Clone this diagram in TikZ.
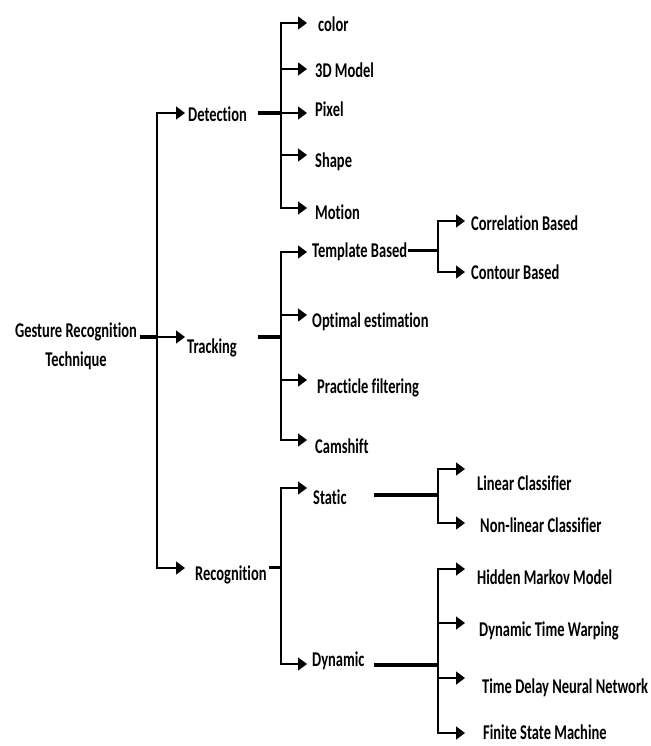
\documentclass[tikz,border=0pt]{standalone}
\usepackage{fontspec}
\setmainfont{Carlito}[FakeStretch=0.69,Ligatures=NoCommon]
\usepackage{tikz}
\usetikzlibrary{arrows.meta,positioning}

\begin{document}
\begin{tikzpicture}
[x=1pt,y=-1pt,
      lbl/.style={font=\bfseries\fontsize{21}{29}\selectfont,inner sep=0pt},
      arr/.style={line width=1.4pt,-{Triangle[length=9pt,width=13pt]}},
      stub/.style={line width=4pt},
      midstub/.style={line width=3pt}]
 \useasboundingbox (0,0) rectangle (650,746);
 % branch points
 \coordinate (rootV) at (157,337);
 \coordinate (detV) at (281,113);
 \coordinate (trkV) at (281,337);
 \coordinate (recV) at (281,567);
 \coordinate (tmpV) at (438,250);
 \coordinate (staV) at (438,495);
 \coordinate (dynV) at (438,665);
 % arrow tips
 \coordinate (detTip) at (185,113);
 \coordinate (trkTip) at (185,337);
 \coordinate (recTip) at (185,568);
 \coordinate (clrTip) at (307,23);
 \coordinate (mdlTip) at (307,69);
 \coordinate (pixTip) at (307,113);
 \coordinate (shpTip) at (307,155);
 \coordinate (motTip) at (307,208);
 \coordinate (tmpTip) at (307,252);
 \coordinate (optTip) at (307,315);
 \coordinate (prtTip) at (307,380);
 \coordinate (camTip) at (307,440);
 \coordinate (corTip) at (465,221);
 \coordinate (conTip) at (465,272);
 \coordinate (staTip) at (307,488);
 \coordinate (dynTip) at (307,664);
 \coordinate (linTip) at (465,469);
 \coordinate (nlcTip) at (465,523);
 \coordinate (hmmTip) at (465,569);
 \coordinate (dtwTip) at (465,623);
 \coordinate (tdnTip) at (465,678);
 \coordinate (fsmTip) at (465,733);
 % labels
 \node[lbl,align=center] (root) at (76,346) {Gesture Recognition\\Technique};
 \node[lbl,right=3pt of detTip,yshift=-1pt] (det) {Detection};
 \node[lbl,right=2pt of trkTip,yshift=-11pt] (trk) {Tracking};
 \node[lbl,right=10pt of recTip,yshift=-7pt] (rec) {Recognition};
 \node[lbl,right=11pt of clrTip,yshift=-1pt] (clr) {color};
 \node[lbl,right=8pt of mdlTip,yshift=-1pt] (mdl) {3D Model};
 \node[lbl,right=8pt of pixTip,yshift=4pt] (pix) {Pixel};
 \node[lbl,right=8pt of shpTip,yshift=-7pt] (shp) {Shape};
 \node[lbl,right=8pt of motTip,yshift=-4pt] (mot) {Motion};
 \node[lbl,right=5pt of tmpTip] (tmp) {Template Based};
 \node[lbl,right=5pt of optTip,yshift=-7pt] (opt) {Optimal estimation};
 \node[lbl,right=10pt of prtTip,yshift=-8pt] (prt) {Practicle filtering};
 \node[lbl,right=8pt of camTip,yshift=-6pt] (cam) {Camshift};
 \node[lbl,right=6pt of corTip,yshift=-2pt] (cor) {Correlation Based};
 \node[lbl,right=6pt of conTip] (con) {Contour Based};
 \node[lbl,right=6pt of staTip,yshift=-9pt] (sta) {Static};
 \node[lbl,right=5pt of dynTip,yshift=3pt] (dyn) {Dynamic};
 \node[lbl,right=12pt of linTip,yshift=-14pt] (lin) {Linear Classifier};
 \node[lbl,right=15pt of nlcTip,yshift=-2pt] (nlc) {Non-linear Classifier};
 \node[lbl,right=12pt of hmmTip,yshift=-8pt] (hmm) {Hidden Markov Model};
 \node[lbl,right=14pt of dtwTip,yshift=-8pt] (dtw) {Dynamic Time Warping};
 \node[lbl,right=17pt of tdnTip,yshift=-10pt] (tdn) {Time Delay Neural Network};
 \node[lbl,right=18pt of fsmTip,yshift=1pt] (fsm) {Finite State Machine};
 % stubs
 \draw[stub] (rootV) -- ([xshift=3pt]rootV -| root.east);
 \draw[stub] (detV) -- ++(-23,0);
 \draw[stub] (trkV) -- ++(-23,0);
 \draw[midstub] (recV) -- ([xshift=2pt]recV -| rec.east);
 \draw[midstub] (tmpV) -- ([xshift=1pt]tmpV -| tmp.east);
 \draw[stub] (staV) -- ++(-64,0);
 \draw[stub] (dynV) -- ++(-64,0);
 % connectors
 \draw[arr] (rootV) |- (detTip);
 \draw[arr] (rootV) -- (trkTip);
 \draw[arr] (rootV) |- (recTip);
 \foreach \t in {clrTip,mdlTip,pixTip,shpTip,motTip}
  \draw[arr] (detV) |- (\t);
 \foreach \t in {tmpTip,optTip,prtTip,camTip}
  \draw[arr] (trkV) |- (\t);
 \draw[arr] (recV) |- (staTip);
 \draw[arr] (recV) |- (dynTip);
 \draw[arr] (tmpV) |- (corTip);
 \draw[arr] (tmpV) |- (conTip);
 \draw[arr] (staV) |- (linTip);
 \draw[arr] (staV) |- (nlcTip);
 \foreach \t in {hmmTip,dtwTip,tdnTip,fsmTip}
  \draw[arr] (dynV) |- (\t);
\end{tikzpicture}
\end{document}
